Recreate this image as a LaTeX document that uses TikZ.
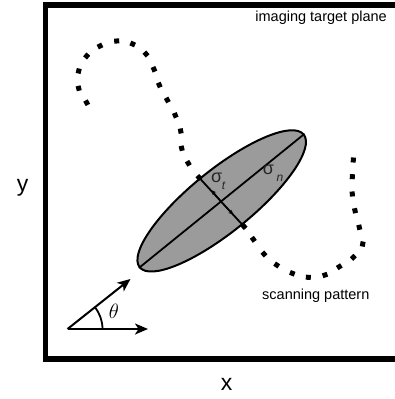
\documentclass[tikz,border=0pt]{standalone}
\usepackage{fontspec}
\setmainfont{Liberation Sans}
\usetikzlibrary{arrows.meta,shapes.geometric,angles}
\definecolor{ellgray}{RGB}{155,155,155}
\tikzset{
  scandot/.style={rectangle, fill=black, minimum size=5pt, inner sep=0pt, outer sep=0pt},
  frameline/.style={line width=5.5pt, line join=miter},
  axisline/.style={line width=1.8pt},
  bigarrow/.style={line width=2pt, -{Stealth[length=13pt,width=11pt,inset=3.5pt]}},
  lab/.style={inner sep=0pt, font=\fontsize{14.5}{16}\selectfont},
  axlab/.style={inner sep=0pt, font=\fontsize{23}{25}\selectfont},
  thlab/.style={inner sep=0pt, font=\fontsize{22}{24}\selectfont},
  siglab/.style={inner sep=0pt, font=\fontsize{18}{19}\selectfont, text=black!85},
  subl/.style={inner sep=0pt, font=\fontsize{12}{13}\selectfont\itshape, text=black!85}
}
\begin{document}
\begin{tikzpicture}[x=1pt,y=-1pt]
\useasboundingbox (0,0) rectangle (394,399);
% frame (right side lies outside the picture)
\coordinate (fTR) at (420,5);
\coordinate (fTL) at (45.5,5);
\coordinate (fBL) at (45.5,358.8);
\coordinate (fBR) at (420,358.8);
\draw[frameline] (fTR) -- (fTL) -- (fBL) -- (fBR);
% labels
\node[lab, anchor=base east] (plane) at (387,21) {imaging target plane};
\node[lab, anchor=base west] (scan) at (262,299) {scanning pattern};
\node[axlab, anchor=base] (ylab) at (22.7,191) {y};
\node[axlab, anchor=base] (xlab) at (226.7,390) {x};
% ellipse
\node[ellipse, draw, line width=2pt, fill=ellgray, rotate=39,
      minimum width=211pt, minimum height=62pt, inner sep=0pt] (E) at (221.7,200.9) {};
\draw[axisline] (E.west) -- (E.east);
% scanning pattern dots
\foreach \x/\y/\a [count=\i] in {86.7/102.7/61, 78.7/88.3/76, 78.7/71/14, 86.7/56/40,
  100/46/63, 116.7/41/86, 132.7/44/24, 146/54/50, 154/69.3/67, 159.3/85/67,
  167.3/100/62, 175.3/115.3/67, 180.7/131/79, 181.7/148.3/77, 188.3/163.3/60, 199/177.5/47}
  \node[scandot, rotate=-\a] (p\i) at (\x,\y) {};
\foreach \x/\y/\a [count=\i from 0] in {244/226.5/47, 253.3/239.3/55, 264/254/48, 276.7/265/34,
  292.3/273.3/21, 308.3/277.3/3, 325/275/71, 339.3/266.7/58, 353.3/257.3/46,
  362.7/244/11, 359.3/227.3/77, 355/210.7/78, 352.3/194/85, 352.3/176.7/2, 353.3/160/3}
  \node[scandot, rotate=-\a] (q\i) at (\x,\y) {};
% minor axis with small arrows
\coordinate (mc) at (221.5,202);
\draw[axisline] (p16.center) -- (q0.center);
\coordinate (m1) at (211.7,190.3);
\coordinate (m2) at (233,214.6);
\draw[line width=1.2pt, -{Stealth[length=4.5pt,width=4.5pt]}] (mc) -- (m1);
\draw[line width=1.2pt, -{Stealth[length=4.5pt,width=4.5pt]}] (mc) -- (m2);
% sigma labels
\node[siglab] (st) at (216.7,178) {σ};
\node[subl] (stsub) at (223.5,186) {t};
\node[siglab] (sn) at (268.5,169.5) {σ};
\node[subl] (snsub) at (280,178.5) {n};
% angle indicator
\coordinate (O) at (67.5,329);
\coordinate (H) at (148,329);
\coordinate (D) at (130.5,279);
\draw[bigarrow] (O) -- (H);
\draw[bigarrow] (O) -- (D);
\pic[draw, line width=1.8pt, angle radius=35pt] {angle = H--O--D};
\node[thlab] (th) at (114,311.5) {$\theta$};
\end{tikzpicture}
\end{document}
